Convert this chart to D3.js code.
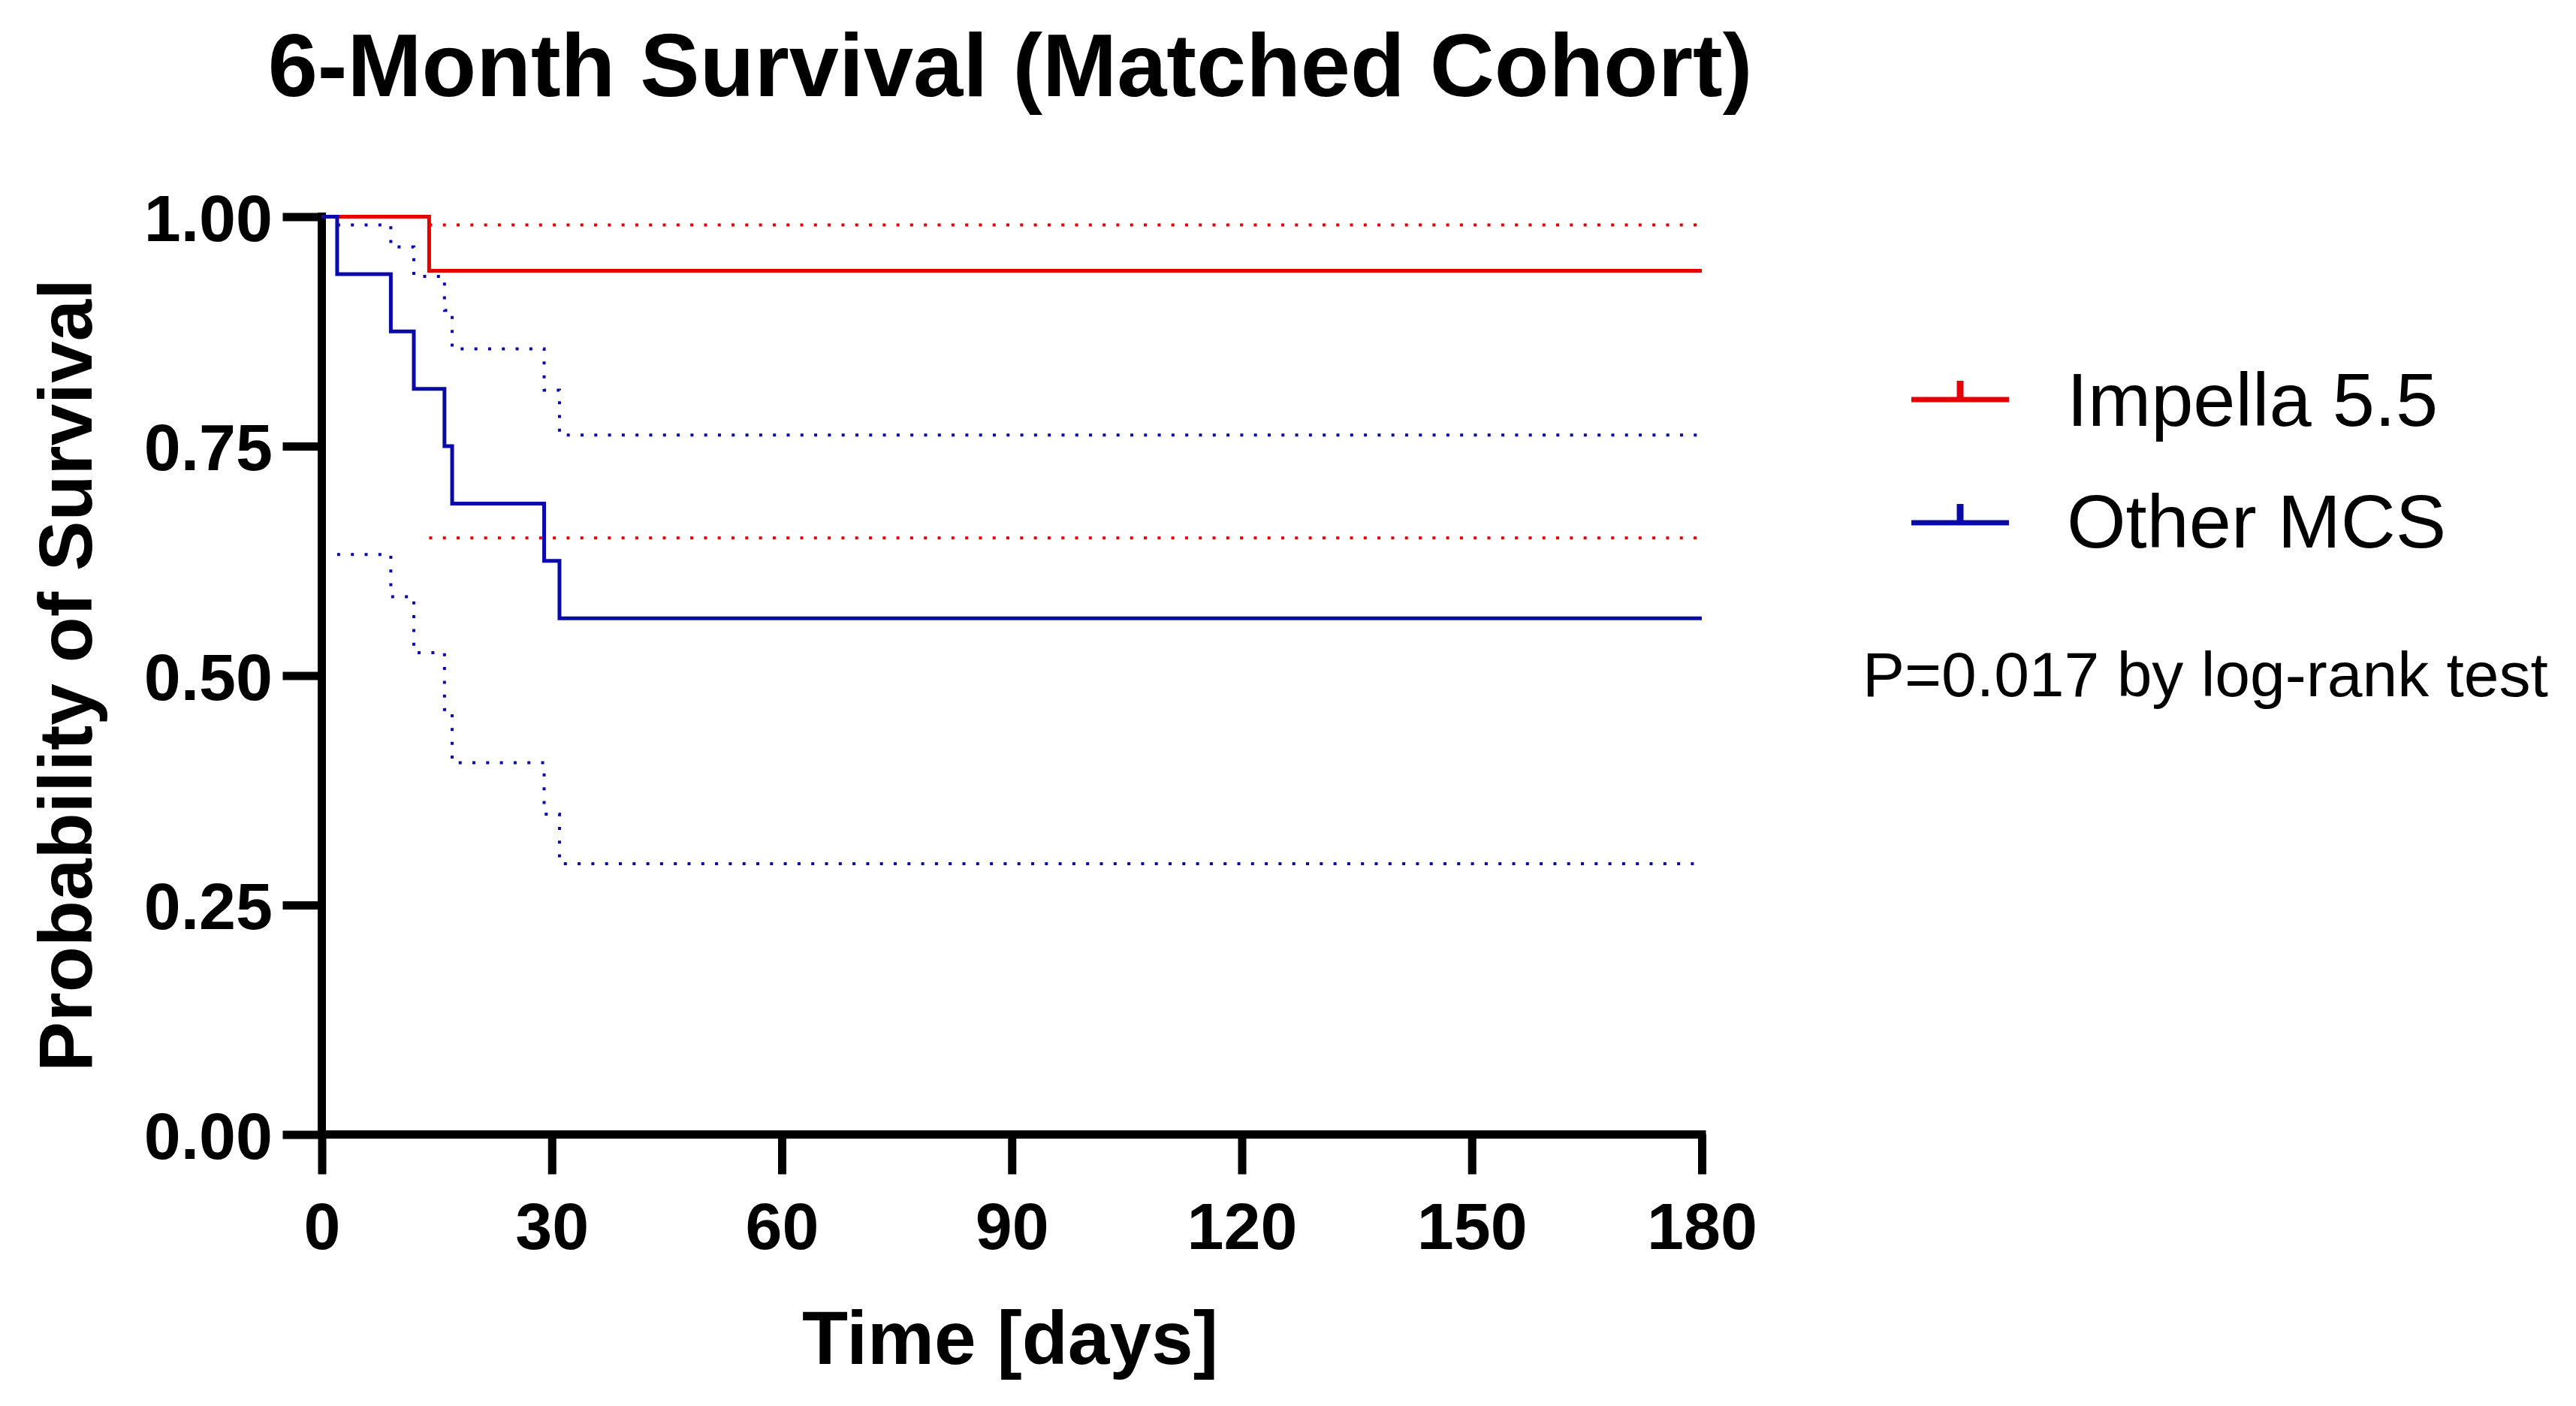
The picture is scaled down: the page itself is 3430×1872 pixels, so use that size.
<!DOCTYPE html>
<html><head><meta charset="utf-8">
<script src="https://cdn.jsdelivr.net/npm/d3@7"></script>
<style>body{margin:0;background:#fff;} svg{display:block;background:#fff;}</style>
</head><body><svg id="c" width="3430" height="1872"></svg>
<script>
// ---- data ----
const title = "6-Month Survival (Matched Cohort)";
const xLabel = "Time [days]";
const yLabel = "Probability of Survival";
const xTicks = [0, 30, 60, 90, 120, 150, 180];
const yTicks = [0, 0.25, 0.5, 0.75, 1];
const yTickLabels = ["0.00", "0.25", "0.50", "0.75", "1.00"];
const seriesNames = ["Impella 5.5", "Other MCS"];
const seriesColors = ["#E60000", "#0A0AA8"];
const pText = "P=0.017 by log-rank test";

const impellaTimes = [0, 14, 180];
const impellaSurv = [1, 0.941, 0.941];
const impellaCiTimes = [14, 180];
const impellaUpper = [0.991, 0.991];
const impellaLower = [0.650, 0.650];

const otherTimes = [0, 2, 9, 12, 16, 17, 29, 31, 180];
const otherSurv = [1, 0.9375, 0.875, 0.8125, 0.75, 0.6875, 0.625, 0.5625, 0.5625];
const otherCiTimes = [2, 9, 12, 16, 17, 29, 31, 180];
const otherUpper = [0.991, 0.967, 0.935, 0.898, 0.856, 0.811, 0.762, 0.762];
const otherLower = [0.632, 0.586, 0.525, 0.463, 0.405, 0.349, 0.295, 0.295];

// ---- drawing ----
const svg = d3.select("#c");
const FONT = "'Liberation Sans', Arial, Helvetica, sans-serif";
const x = d3.scaleLinear().domain([0, 180]).range([428.5, 2266]);
const y = d3.scaleLinear().domain([0, 1]).range([1510.5, 288.5]);

// title
svg.append("text").attr("x", 1345).attr("y", 128).attr("text-anchor", "middle")
  .attr("font-family", FONT).attr("font-weight", "bold").attr("font-size", 119)
  .attr("fill", "#000").text(title);

// axes (ticks + labels)
const axB = svg.append("g").attr("transform", `translate(0,${y(0)})`)
  .call(d3.axisBottom(x).tickValues(xTicks).tickFormat(d3.format("d")).tickSize(53).tickSizeOuter(0).tickPadding(37.5));
const axL = svg.append("g").attr("transform", `translate(${x(0)},0)`)
  .call(d3.axisLeft(y).tickValues(yTicks).tickFormat((d, i) => yTickLabels[i]).tickSize(52).tickSizeOuter(0).tickPadding(13.5));
[axB, axL].forEach(g => {
  g.select(".domain").remove();
  g.selectAll(".tick line").attr("stroke", "#000").attr("stroke-width", 11);
  g.selectAll(".tick text").attr("font-family", FONT).attr("font-weight", "bold")
    .attr("font-size", 88).attr("fill", "#000");
});
axL.selectAll(".tick text").attr("dy", "0.36em");

// axis lines
svg.append("line").attr("x1", x(0)).attr("x2", x(180)).attr("y1", y(0)).attr("y2", y(0))
  .attr("stroke", "#000").attr("stroke-width", 11).attr("stroke-linecap", "square");
svg.append("line").attr("x1", x(0)).attr("x2", x(0)).attr("y1", y(0)).attr("y2", y(1))
  .attr("stroke", "#000").attr("stroke-width", 11).attr("stroke-linecap", "square");

// axis titles
svg.append("text").attr("x", 1345).attr("y", 1816).attr("text-anchor", "middle")
  .attr("font-family", FONT).attr("font-weight", "bold").attr("font-size", 100)
  .attr("fill", "#000").text(xLabel);
svg.append("text").attr("transform", "translate(122,899) rotate(-90)").attr("text-anchor", "middle")
  .attr("font-family", FONT).attr("font-weight", "bold").attr("font-size", 100)
  .attr("fill", "#000").text(yLabel);

const step = d3.line().x(d => x(d[0])).y(d => y(d[1])).curve(d3.curveStepAfter);
const zip = (a, b) => a.map((v, i) => [v, b[i]]);

const plot = svg.append("g");
function drawSeries(times, surv, ciT, up, lo, color) {
  [up, lo].forEach(ci => {
    plot.append("path").attr("d", step(zip(ciT, ci))).attr("fill", "none")
      .attr("stroke", color).attr("stroke-width", 4).attr("stroke-dasharray", "4 14.3");
  });
}
drawSeries(impellaTimes, impellaSurv, impellaCiTimes, impellaUpper, impellaLower, seriesColors[0]);
drawSeries(otherTimes, otherSurv, otherCiTimes, otherUpper, otherLower, seriesColors[1]);
plot.append("path").attr("d", step(zip(impellaTimes, impellaSurv))).attr("fill", "none")
  .attr("stroke", seriesColors[0]).attr("stroke-width", 5).attr("stroke-linejoin", "miter");
plot.append("path").attr("d", step(zip(otherTimes, otherSurv))).attr("fill", "none")
  .attr("stroke", seriesColors[1]).attr("stroke-width", 5).attr("stroke-linejoin", "miter");

// legend
const legY = [532, 696];
const legTextY = [567, 729];
seriesNames.forEach((name, i) => {
  const g = svg.append("g");
  g.append("line").attr("x1", 2545).attr("x2", 2675).attr("y1", legY[i]).attr("y2", legY[i])
    .attr("stroke", seriesColors[i]).attr("stroke-width", 7);
  g.append("line").attr("x1", 2610).attr("x2", 2610).attr("y1", legY[i]).attr("y2", legY[i] - 25)
    .attr("stroke", seriesColors[i]).attr("stroke-width", 9);
  g.append("text").attr("x", 2752).attr("y", legTextY[i]).attr("font-family", FONT)
    .attr("font-size", 101).attr("fill", "#000").text(name);
});
svg.append("text").attr("x", 2480).attr("y", 927).attr("font-family", FONT)
  .attr("font-size", 84).attr("fill", "#000").text(pText);
</script></body></html>
